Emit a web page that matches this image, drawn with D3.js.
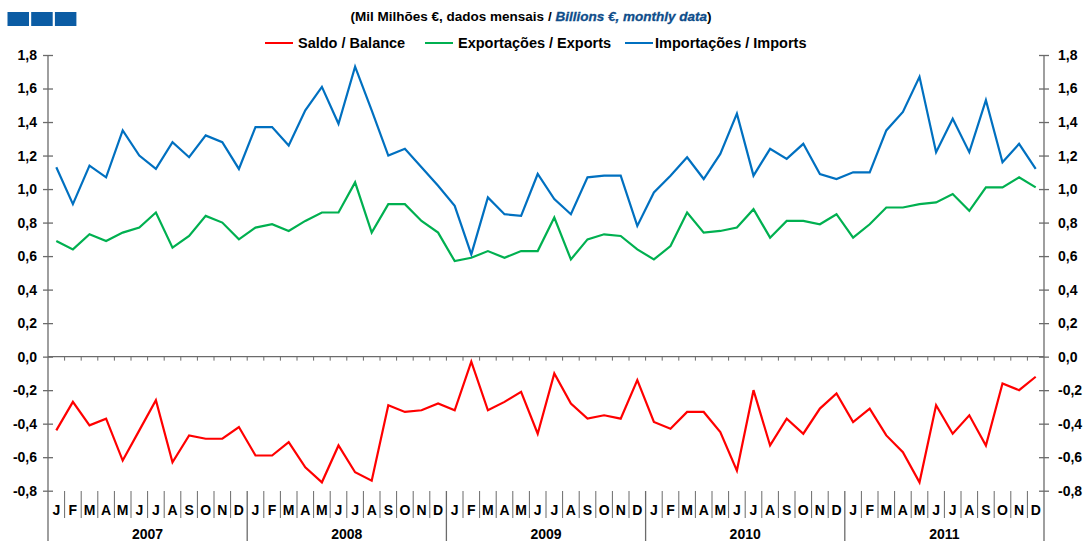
<!DOCTYPE html>
<html>
<head>
<meta charset="utf-8">
<script src="https://cdn.jsdelivr.net/npm/d3@7"></script>
<style>
  body { margin: 0; background: #fff; }
  svg { display: block; font-family: "Liberation Sans", Arial, sans-serif; }
</style>
</head>
<body>
<div id="chart"></div>
<script>
// Dados mensais, Jan 2007 - Dez 2011 (mil milhões €)
const years = ['2007', '2008', '2009', '2010', '2011']
const month_letters = ['J', 'F', 'M', 'A', 'M', 'J', 'J', 'A', 'S', 'O', 'N', 'D']

const imports = [
  1.13, 0.91, 1.14, 1.07, 1.35, 1.20, 1.12, 1.28, 1.19, 1.32, 1.28, 1.12,
  1.37, 1.37, 1.26, 1.47, 1.61, 1.39, 1.73, 1.47, 1.20, 1.24, 1.13, 1.02,
  0.90, 0.61, 0.95, 0.85, 0.84, 1.09, 0.94, 0.85, 1.07, 1.08, 1.08, 0.78,
  0.98, 1.08, 1.19, 1.06, 1.21, 1.45, 1.08, 1.24, 1.18, 1.27, 1.09, 1.06,
  1.10, 1.10, 1.35, 1.46, 1.67, 1.22, 1.42, 1.22, 1.53, 1.16, 1.27, 1.12
]
const exports = [
  0.69, 0.64, 0.73, 0.69, 0.74, 0.77, 0.86, 0.65, 0.72, 0.84, 0.80, 0.70,
  0.77, 0.79, 0.75, 0.81, 0.86, 0.86, 1.04, 0.74, 0.91, 0.91, 0.81, 0.74,
  0.57, 0.59, 0.63, 0.59, 0.63, 0.63, 0.83, 0.58, 0.70, 0.73, 0.72, 0.64,
  0.58, 0.66, 0.86, 0.74, 0.75, 0.77, 0.88, 0.71, 0.81, 0.81, 0.79, 0.85,
  0.71, 0.79, 0.89, 0.89, 0.91, 0.92, 0.97, 0.87, 1.01, 1.01, 1.07, 1.01
]
const balance = [
  -0.44, -0.27, -0.41, -0.37, -0.62, -0.44, -0.26, -0.63, -0.47, -0.49, -0.49, -0.42,
  -0.59, -0.59, -0.51, -0.66, -0.75, -0.53, -0.69, -0.74, -0.29, -0.33, -0.32, -0.28,
  -0.32, -0.03, -0.32, -0.27, -0.21, -0.46, -0.10, -0.28, -0.37, -0.35, -0.37, -0.14,
  -0.39, -0.43, -0.33, -0.33, -0.45, -0.68, -0.20, -0.53, -0.37, -0.46, -0.31, -0.22,
  -0.39, -0.31, -0.47, -0.57, -0.75, -0.29, -0.46, -0.35, -0.53, -0.16, -0.20, -0.12
]
const y_ticks = [-0.8, -0.6, -0.4, -0.2, 0, 0.2, 0.4, 0.6, 0.8, 1.0, 1.2, 1.4, 1.6, 1.8]

const series = [
  { name: 'Saldo / Balance', values: balance, color: '#ff0000' },
  { name: 'Exportações / Exports', values: exports, color: '#00b050' },
  { name: 'Importações / Imports', values: imports, color: '#0070c0' }
]

const width = 1086, height = 541
const axis_color = '#6b6b6b'

const svg = d3.select('#chart').append('svg')
  .attr('width', width)
  .attr('height', height)

// Escalas
const months = d3.range(60)
const x = d3.scaleBand().domain(months).range([48, 1044]).padding(0)
const y = d3.scaleLinear().domain([-0.8, 1.8]).range([490.7, 55])

const pt = d3.formatLocale({ decimal: ',', thousands: '.', grouping: [3], currency: ['', '€'], minus: '-' })
const fmt = pt.format('.1f')

// Logótipo (três quadrados)
svg.append('g').selectAll('rect')
  .data([0, 1, 2])
  .join('rect')
  .attr('x', d => 7.5 + d * 23.7)
  .attr('y', 12)
  .attr('width', 21.5)
  .attr('height', 14)
  .attr('fill', '#0b5ca4')

// Título
const title = svg.append('text')
  .attr('x', 531)
  .attr('y', 21)
  .attr('text-anchor', 'middle')
  .attr('font-size', 13.5)
  .attr('font-weight', 'bold')
title.append('tspan').text('(Mil Milhões €, dados mensais / ')
title.append('tspan')
  .attr('font-style', 'italic')
  .attr('fill', '#0e4d8a')
  .attr('stroke', '#0e4d8a')
  .attr('stroke-width', 0.3)
  .text('Billions  €, monthly data')
title.append('tspan').text(')')

// Legenda
const legend_x = [265, 425, 625]
const legend = svg.append('g').selectAll('g')
  .data(series)
  .join('g')
  .attr('transform', (d, i) => `translate(${legend_x[i]}, 43)`)
legend.append('line')
  .attr('x1', 0).attr('x2', 28)
  .attr('stroke', d => d.color)
  .attr('stroke-width', 2)
legend.append('text')
  .attr('x', (d, i) => i == 2 ? 30 : 33)
  .attr('dy', '0.36em')
  .attr('font-size', 14.5)
  .attr('font-weight', 'bold')
  .text(d => d.name)

// Eixos verticais
const left_axis = svg.append('g')
  .attr('transform', 'translate(48,0)')
  .call(d3.axisLeft(y).tickValues(y_ticks).tickFormat(fmt).tickSize(5).tickPadding(6))
const right_axis = svg.append('g')
  .attr('transform', 'translate(1044,0)')
  .call(d3.axisRight(y).tickValues(y_ticks).tickFormat(fmt).tickSize(5).tickPadding(9))

;[left_axis, right_axis].forEach(a => {
  a.select('.domain').remove()
  a.selectAll('.tick line').attr('x1', -5).attr('x2', 5).attr('stroke', axis_color).attr('stroke-width', 1.3)
  a.selectAll('.tick text')
    .attr('font-size', 14)
    .attr('font-weight', 'bold')
    .attr('font-family', '"Liberation Sans", Arial, sans-serif')
    .attr('fill', '#000')
  a.append('line')
    .attr('y1', 55).attr('y2', height)
    .attr('stroke', axis_color)
    .attr('stroke-width', 1.3)
})

// Linha do zero com marcas mensais
const bounds = d3.range(61).map(i => i < 60 ? x(i) : x(59) + x.bandwidth())
svg.append('line')
  .attr('x1', 48).attr('x2', 1044)
  .attr('y1', y(0)).attr('y2', y(0))
  .attr('stroke', axis_color)
  .attr('stroke-width', 1.3)
svg.append('g').selectAll('line')
  .data(bounds.slice(1, 60))
  .join('line')
  .attr('x1', d => d).attr('x2', d => d)
  .attr('y1', y(0)).attr('y2', y(0) + 4)
  .attr('stroke', axis_color)

// Eixo de categorias (meses e anos)
svg.append('g').selectAll('line')
  .data(bounds.slice(1, 60))
  .join('line')
  .attr('x1', d => d).attr('x2', d => d)
  .attr('y1', 491)
  .attr('y2', (d, i) => (i + 1) % 12 == 0 ? height : 518)
  .attr('stroke', axis_color)
  .attr('stroke-width', (d, i) => (i + 1) % 12 == 0 ? 1.3 : 1)

svg.append('g').selectAll('text')
  .data(months)
  .join('text')
  .attr('x', d => x(d) + x.bandwidth() / 2)
  .attr('y', 515)
  .attr('text-anchor', 'middle')
  .attr('font-size', 14)
  .attr('font-weight', 'bold')
  .text(d => month_letters[d % 12])

svg.append('g').selectAll('text')
  .data(years)
  .join('text')
  .attr('x', (d, i) => x(i * 12) + x.bandwidth() * 6)
  .attr('y', 539)
  .attr('text-anchor', 'middle')
  .attr('font-size', 14)
  .attr('font-weight', 'bold')
  .text(d => d)

// Linhas das séries
const line = d3.line()
  .x((d, i) => x(i) + x.bandwidth() / 2)
  .y(d => y(d))

svg.append('g').selectAll('path')
  .data(series)
  .join('path')
  .attr('d', d => line(d.values))
  .attr('fill', 'none')
  .attr('stroke', d => d.color)
  .attr('stroke-width', 2.2)
  .attr('stroke-linejoin', 'miter')
</script>
</body>
</html>
